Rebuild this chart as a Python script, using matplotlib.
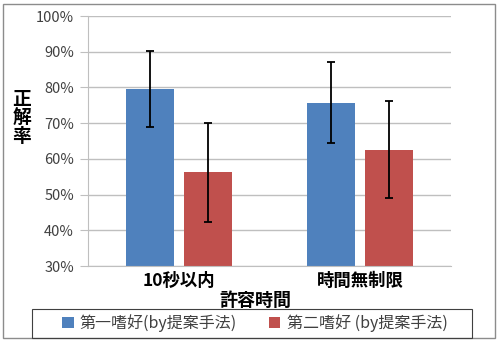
import matplotlib
matplotlib.use("Agg")
import matplotlib.pyplot as plt
from matplotlib.patches import Rectangle
import numpy as np

plt.rcParams['font.family'] = ['Noto Sans CJK JP', 'DejaVu Sans']

categories = ['10秒以内', '時間無制限']
series_names = ['第一嗜好(by提案手法)', '第二嗜好 (by提案手法)']
first_vals = [79.6, 75.7]
first_err_hi = [90.2, 87.1]
first_err_lo = [68.9, 64.5]
second_vals = [56.3, 62.5]
second_err_hi = [70.1, 76.2]
second_err_lo = [42.3, 49.0]
yticks = [30, 40, 50, 60, 70, 80, 90, 100]

W, H = 498, 341
fig = plt.figure(figsize=(W/100, H/100), dpi=100)
ax = fig.add_axes([88/W, 1-266/H, (451-88)/W, (266-16)/H])

# outer border
fig.patches.append(Rectangle((3/W, 3/H), 492/W, 334/H, transform=fig.transFigure,
                             fill=False, edgecolor='#8c8c8c', linewidth=1.0))
# legend frame
fig.patches.append(Rectangle((32/W, 1-338/H), 440/W, 29/H, transform=fig.transFigure,
                             fill=False, edgecolor='#404040', linewidth=0.8))

x = np.arange(len(categories))
bw = 0.265
off = 0.16
colors = ['#4F81BD', '#C0504D']
for i, (vals, hi, lo) in enumerate([(first_vals, first_err_hi, first_err_lo),
                                     (second_vals, second_err_hi, second_err_lo)]):
    xs = x + (-off if i == 0 else off)
    vals = np.array(vals); hi = np.array(hi); lo = np.array(lo)
    ax.bar(xs, vals - 30, bottom=30, width=bw, color=colors[i], zorder=2,
           label=series_names[i])
    ax.errorbar(xs, vals, yerr=[vals - lo, hi - vals], fmt='none', ecolor='black',
                elinewidth=1.3, capsize=3, capthick=1.3, zorder=3)

ax.set_xlim(-0.5, 1.5)
ax.set_ylim(30, 100)
ax.set_yticks(yticks)
ax.set_yticklabels([f'{v}%' for v in yticks], fontsize=10.5, color='#404040')
ax.yaxis.grid(True, color='#bfbfbf', linewidth=1.0, zorder=0)
ax.set_axisbelow(True)
ax.tick_params(axis='y', length=6, color='#bfbfbf', pad=4)
ax.set_xticks(x)
ax.set_xticklabels(categories, fontsize=12.5, fontweight='bold')
ax.tick_params(axis='x', length=0, pad=4)
for s in ['top', 'right']:
    ax.spines[s].set_visible(False)
ax.spines['left'].set_color('#bfbfbf')
ax.spines['bottom'].set_color('#bfbfbf')

fig.text(255/W, 1-300/H, '許容時間', ha='center', va='center', fontsize=13, fontweight='bold')
fig.text(22/W, 1-118/H, '正\n解\n率', ha='center', va='center', fontsize=13.5,
         fontweight='bold', linespacing=0.95)

leg = fig.legend(loc='center', bbox_to_anchor=(255/W, 1-323.5/H), ncol=2, fontsize=11.5,
                 frameon=False, handlelength=0.7,
                 handleheight=0.7, columnspacing=2.0, handletextpad=0.4,
                 borderpad=0.2, borderaxespad=0)
for t in leg.get_texts():
    t.set_color('#404040')

fig.savefig('out.png', dpi=100)
